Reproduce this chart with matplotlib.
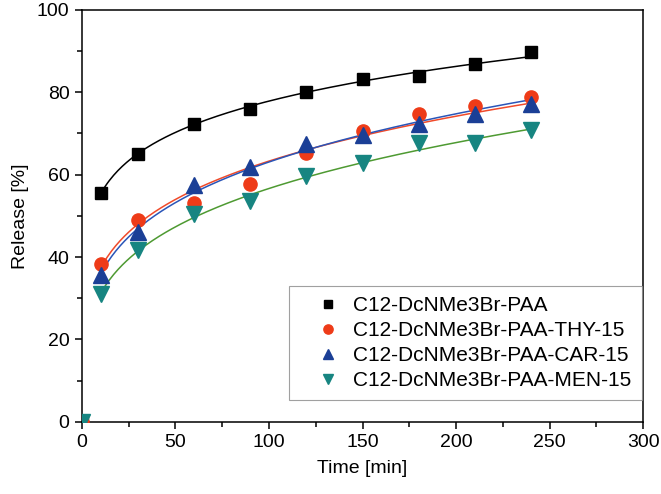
import numpy as np
import matplotlib.pyplot as plt
from matplotlib.ticker import MultipleLocator

plt.rcParams['font.family'] = ['Liberation Sans', 'DejaVu Sans']

time_min = [0, 10, 30, 60, 90, 120, 150, 180, 210, 240]

paa = [0, 55.6, 65.0, 72.2, 76.0, 80.0, 83.2, 83.9, 86.9, 89.8]
thy = [0, 38.4, 49.1, 53.2, 57.7, 65.2, 70.6, 74.7, 76.6, 78.9]
car = [0, 35.6, 46.1, 57.5, 61.9, 67.4, 69.6, 72.3, 74.8, 77.1]
men = [0, 31.1, 41.6, 50.5, 53.5, 59.8, 62.9, 67.6, 67.7, 70.8]

names = ['C12-DcNMe3Br-PAA', 'C12-DcNMe3Br-PAA-THY-15',
         'C12-DcNMe3Br-PAA-CAR-15', 'C12-DcNMe3Br-PAA-MEN-15']
series = [paa, thy, car, men]
markers = ['s', 'o', '^', 'v']
msizes = [8.5, 9.5, 11, 11]
colors = ['black', '#EE3B18', '#1B3F96', '#178581']
line_colors = ['black', '#F04A2A', '#2A55B8', '#4E9A32']

fig = plt.figure(figsize=(6.61, 4.94), dpi=100)
ax = fig.add_axes([0.124, 0.146, 0.849, 0.834])

t = np.array(time_min, dtype=float)
tt = np.linspace(10, 240, 200)
for y, name, mk, ms, c, lc in zip(series, names, markers, msizes, colors, line_colors):
    y = np.array(y, dtype=float)
    # power-law fit (Korsmeyer-Peppas) on the non-zero points
    n, logk = np.polyfit(np.log(t[1:]), np.log(y[1:]), 1)
    ax.plot(tt, np.exp(logk) * tt ** n, color=lc, lw=1.1, zorder=2)
    ax.plot(t, y, linestyle='none', marker=mk, markersize=ms, color=c,
            label=name, zorder=3)

ax.set_xlim(0, 300)
ax.set_ylim(0, 100)
ax.xaxis.set_major_locator(MultipleLocator(50))
ax.xaxis.set_minor_locator(MultipleLocator(25))
ax.yaxis.set_major_locator(MultipleLocator(20))
ax.yaxis.set_minor_locator(MultipleLocator(10))
ax.tick_params(which='both', direction='out', top=False, right=False,
               labelsize=14, width=1.1)
ax.tick_params(which='major', length=5, pad=4)
ax.tick_params(which='minor', length=3.5)
for sp in ax.spines.values():
    sp.set_linewidth(1.1)

ax.set_xlabel('Time [min]', fontsize=14, labelpad=6)
ax.set_ylabel('Release [%]', fontsize=14, labelpad=6)

leg = ax.legend(loc='upper right', bbox_to_anchor=(0.998, 0.330), fontsize=15,
                frameon=True, fancybox=False, edgecolor='#888888',
                markerscale=0.7, handletextpad=-0.18, labelspacing=0.28,
                borderpad=0.5, handlelength=2.75, borderaxespad=0)
leg.get_frame().set_linewidth(0.8)

fig.savefig('out.png', dpi=100)
